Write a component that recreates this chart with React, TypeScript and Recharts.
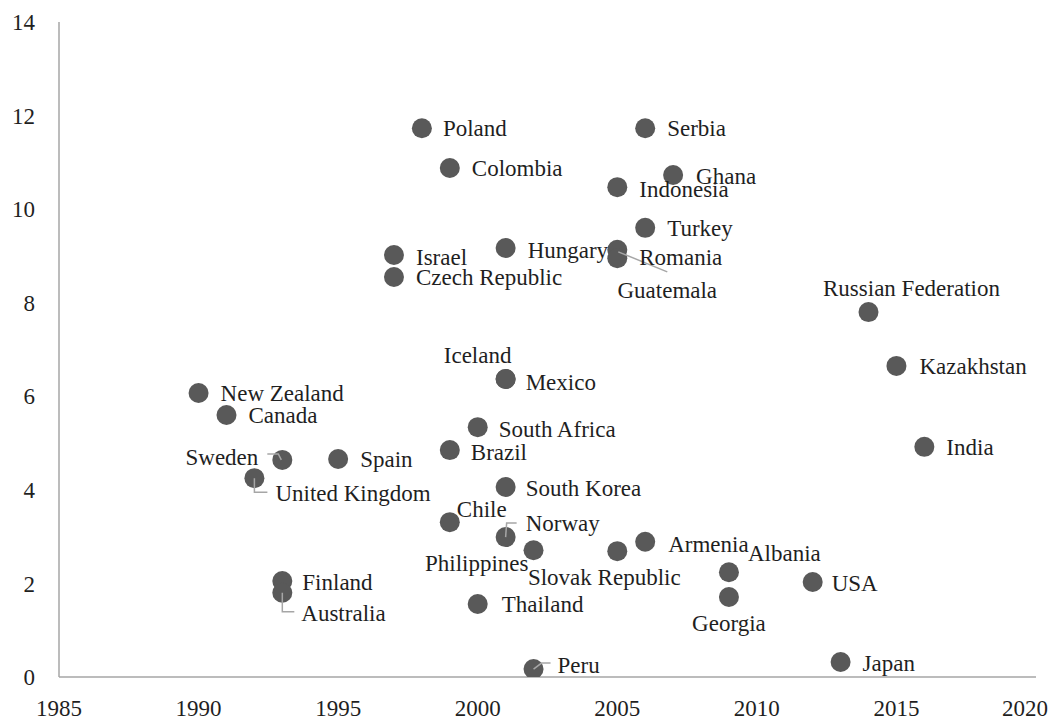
import React from 'react';
import { ScatterChart, Scatter, XAxis, YAxis } from 'recharts';

const countries = [
  'Poland', 'Serbia', 'Colombia', 'Ghana', 'Indonesia', 'Turkey', 'Hungary',
  'Guatemala', 'Romania', 'Israel', 'Czech Republic', 'Russian Federation',
  'Kazakhstan', 'India', 'Mexico', 'Iceland', 'South Africa', 'Brazil',
  'South Korea', 'Chile', 'Norway', 'Philippines', 'Slovak Republic', 'Armenia',
  'New Zealand', 'Canada', 'Sweden', 'Spain', 'United Kingdom', 'Finland',
  'Australia', 'Thailand', 'Peru', 'Albania', 'Georgia', 'USA', 'Japan',
];
const years = [
  1998, 2006, 1999, 2007, 2005, 2006, 2001,
  2005, 2005, 1997, 1997, 2014,
  2015, 2016, 2001, 2001, 2000, 1999,
  2001, 1999, 2001, 2002, 2005, 2006,
  1990, 1991, 1993, 1995, 1992, 1993,
  1993, 2000, 2002, 2009, 2009, 2012, 2013,
];
const values = [
  11.73, 11.73, 10.88, 10.73, 10.47, 9.6, 9.17,
  9.13, 8.95, 9.02, 8.55, 7.8,
  6.65, 4.92, 6.37, 6.37, 5.34, 4.85,
  4.06, 3.31, 2.99, 2.71, 2.69, 2.89,
  6.07, 5.6, 4.64, 4.66, 4.25, 2.05,
  1.8, 1.56, 0.17, 2.24, 1.71, 2.03, 0.32,
];
const xTicks = [1985, 1990, 1995, 2000, 2005, 2010, 2015, 2020];
const yTicks = [0, 2, 4, 6, 8, 10, 12, 14];

const data = countries.map((name, i) => ({ name, year: years[i], value: values[i] }));

type Place = { dx: number; dy: number; anchor?: 'start' | 'middle' | 'end'; leader?: number[][] };
const DEFAULT_PLACE: Place = { dx: 22, dy: 0, anchor: 'start' };
const labelPlacement: Record<string, Place> = {
  Poland: { dx: 21, dy: 0 },
  Ghana: { dx: 23, dy: 1 },
  Indonesia: { dx: 22, dy: 2 },
  Hungary: { dx: 22, dy: 2 },
  Israel: { dx: 22, dy: 2 },
  Guatemala: { dx: 50, dy: 40, anchor: 'middle', leader: [[1, 2], [50, 22]] },
  Romania: { dx: 22, dy: -1 },
  'Russian Federation': { dx: 43, dy: -24, anchor: 'middle' },
  Mexico: { dx: 20, dy: 3 },
  Iceland: { dx: -28, dy: -24, anchor: 'middle' },
  'South Africa': { dx: 21, dy: 2 },
  Brazil: { dx: 21, dy: 2 },
  'South Korea': { dx: 20, dy: 1 },
  Chile: { dx: 7, dy: -13 },
  Norway: { dx: 20, dy: -14, leader: [[0, 0], [1, -14], [11, -14]] },
  Philippines: { dx: -5, dy: 13, anchor: 'end' },
  'Slovak Republic': { dx: -13, dy: 26, anchor: 'middle' },
  Armenia: { dx: 23, dy: 2 },
  Sweden: { dx: -24, dy: -3, anchor: 'end', leader: [[-15, -6], [-4, -6], [-1, 0]] },
  'United Kingdom': { dx: 21, dy: 15, leader: [[0, 0], [0, 14], [13, 14]] },
  Finland: { dx: 20, dy: 1 },
  Australia: { dx: 19, dy: 20, leader: [[0, 0], [0, 19], [12, 19]] },
  Thailand: { dx: 24, dy: 0 },
  Peru: { dx: 24, dy: -4, leader: [[0, 0], [8, -6], [17, -6]] },
  Albania: { dx: 19, dy: -19 },
  Georgia: { dx: 0, dy: 26, anchor: 'middle' },
  USA: { dx: 19, dy: 1 },
  Japan: { dx: 22, dy: 1 },
  Kazakhstan: { dx: 23, dy: 0 },
};

const FONT = 'Liberation Serif';
const TEXT = '#1f1f1f';
const AXIS = '#a6a6a6';
const POINT = '#595959';
const FS = 23;

const Dot = (props: any) => {
  const { cx, cy } = props;
  if (cx == null || cy == null) return null;
  return <circle cx={cx} cy={cy} r={10} fill={POINT} />;
};

const LabelShape = (props: any) => {
  const { cx, cy, payload } = props;
  if (cx == null || cy == null) return null;
  const p = { ...DEFAULT_PLACE, ...(labelPlacement[payload.name] || {}) };
  return (
    <g>
      {p.leader && (
        <polyline
          points={p.leader.map(([a, b]) => `${cx + a},${cy + b}`).join(' ')}
          fill="none"
          stroke={AXIS}
          strokeWidth={1.5}
        />
      )}
      <text
        x={cx + p.dx}
        y={cy + p.dy}
        dy="0.35em"
        textAnchor={p.anchor || 'start'}
        fontFamily={FONT}
        fontSize={FS}
        fill={TEXT}
      >
        {payload.name}
      </text>
    </g>
  );
};

const XTick = (props: any) => {
  const { x, y, payload } = props;
  const last = payload.value === 2020;
  return (
    <text x={last ? x - 11 : x} y={y} dy="0.71em" textAnchor="middle" fontFamily={FONT} fontSize={FS} fill={TEXT}>
      {payload.value}
    </text>
  );
};

const YTick = (props: any) => {
  const { x, y, payload } = props;
  return (
    <text x={x} y={y} dy="0.355em" textAnchor="end" fontFamily={FONT} fontSize={FS} fill={TEXT}>
      {payload.value}
    </text>
  );
};

export default function App() {
  return (
    <div style={{ position: 'absolute', left: 0, top: 0, width: 1064, height: 720, background: '#fff' }}>
      <ScatterChart width={1064} height={720} margin={{ top: 22, right: 28, left: 0, bottom: 0 }}>
        <XAxis
          type="number"
          dataKey="year"
          domain={[1985, 2020]}
          ticks={xTicks}
          interval={0}
          allowDataOverflow
          tickLine={false}
          tickSize={0}
          tickMargin={23}
          height={43}
          axisLine={{ stroke: AXIS, strokeWidth: 1.5 }}
          tick={<XTick />}
        />
        <YAxis
          type="number"
          dataKey="value"
          domain={[0, 14]}
          ticks={yTicks}
          interval={0}
          allowDataOverflow
          tickLine={false}
          tickSize={0}
          tickMargin={24}
          width={59}
          axisLine={{ stroke: AXIS, strokeWidth: 1.5 }}
          tick={<YTick />}
        />
        <Scatter data={data} shape={<Dot />} isAnimationActive={false} />
        <Scatter data={data} shape={<LabelShape />} isAnimationActive={false} />
      </ScatterChart>
    </div>
  );
}
